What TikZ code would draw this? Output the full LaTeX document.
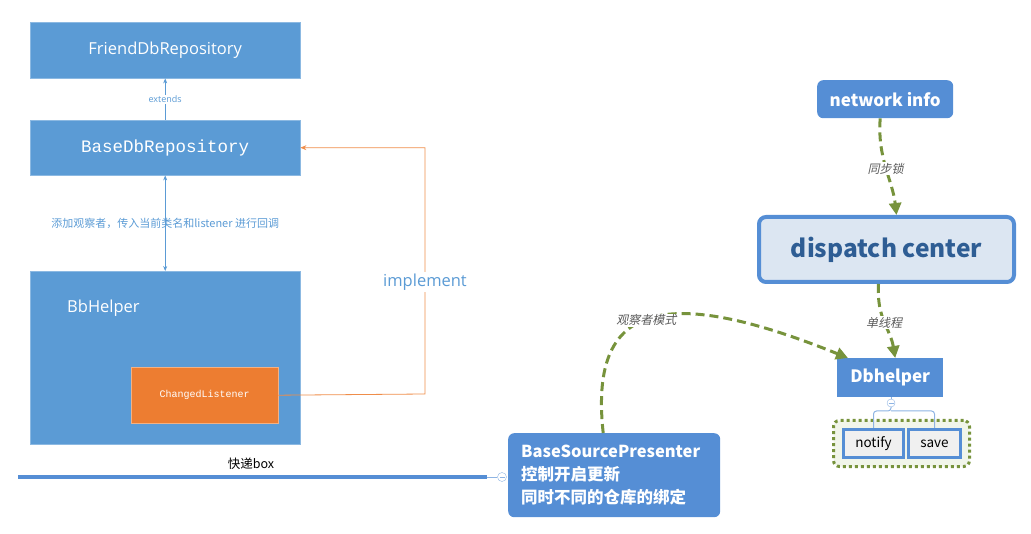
\documentclass[tikz,border=0pt]{standalone}
\usepackage{fontspec}
\setmainfont{Carlito}
\newfontfamily\uifont{Open Sans}
\newfontfamily\cjk{Noto Sans CJK SC}
\newfontfamily\cjkit{Noto Sans CJK SC}[FakeSlant=0.22]
\newfontfamily\monof{Liberation Mono}
\usetikzlibrary{arrows.meta}

\definecolor{boxblue}{HTML}{5B9BD5}
\definecolor{mapblue}{HTML}{558ED5}
\definecolor{knobblue}{HTML}{8EB4E3}
\definecolor{linkorange}{HTML}{F4B183}
\definecolor{orangebox}{HTML}{ED7D31}
\definecolor{leafgreen}{HTML}{77933C}
\definecolor{centerfill}{HTML}{DCE6F2}
\definecolor{centertext}{HTML}{2E5D94}
\definecolor{leaffill}{HTML}{F0F0F0}
\definecolor{groupfill}{HTML}{F1F5EA}
\definecolor{notegray}{HTML}{595959}

\tikzset{
  classbox/.style={draw=boxblue!70!white, fill=boxblue, text=white, inner sep=0pt, anchor=north west},
  topic/.style={fill=mapblue, text=white, inner sep=0pt, anchor=north west, font=\cjk\bfseries\fontsize{17}{20}\selectfont},
  leaf/.style={draw=mapblue, line width=3pt, fill=leaffill, inner sep=0pt, anchor=north west, font=\cjk\fontsize{13.5}{16}\selectfont},
  relation/.style={draw=leafgreen, line width=3pt, dash pattern=on 9pt off 5pt,
    -{Triangle[length=12pt,width=12pt]}},
  relnote/.style={fill=white, inner sep=1pt, text=notegray, font=\cjkit\fontsize{12}{14}\selectfont},
  knob/.style={circle, draw=knobblue, fill=white, inner sep=0pt, minimum size=9pt,
    path picture={\draw[knobblue, line width=0.8pt] ([xshift=-2.5pt]path picture bounding box.center) -- ([xshift=2.5pt]path picture bounding box.center);}},
  branch/.style={draw=knobblue, line width=1pt, rounded corners=3pt},
}

\begin{document}
\begin{tikzpicture}[x=1pt, y=-1pt]
\useasboundingbox (0,0) rectangle (1031,534);

% ---- class hierarchy ----
\node[classbox, minimum width=270pt, minimum height=56pt, font=\uifont\fontsize{16.5}{19}\selectfont]
  (friend) at (30,22) {FriendDbRepository};
\node[classbox, minimum width=270pt, minimum height=55pt, font=\monof\fontsize{17.5}{20}\selectfont]
  (base) at (30,120) {BaseDbRepository};
\node[classbox, minimum width=270pt, minimum height=173pt] (helper) at (30,271) {};
\node[anchor=west, text=white, inner sep=0pt, font=\uifont\fontsize{16.5}{19}\selectfont]
  (helpertitle) at (67,308) {BbHelper};
\node[draw=orangebox!60!white, fill=orangebox, text=white, inner sep=0pt, anchor=north west,
  minimum width=147pt, minimum height=56pt, font=\monof\fontsize{10}{12}\selectfont]
  (listener) at (131,367) {ChangedListener};

\draw[boxblue, line width=0.7pt, -{Stealth[length=5pt,width=4pt]}] (base.north) -- (friend.south)
  node[midway, fill=white, inner sep=1pt, font=\uifont\fontsize{9}{11}\selectfont, text=boxblue] {extends};
\draw[boxblue, line width=0.7pt, {Stealth[length=5pt,width=4pt]}-{Stealth[length=5pt,width=4pt]}]
  (base.south) -- (helper.north)
  node[midway, inner sep=0pt, font=\cjk\fontsize{11}{13}\selectfont, text=boxblue]
  {添加观察者，传入当前类名和listener 进行回调};

\coordinate (implturn) at (425,394);
\draw[line width=0.8pt, -{Stealth[length=6pt,width=5pt]}, color=orangebox!70!linkorange]
  (listener.east) -- (implturn) |- (base.east);
\node[fill=white, inner sep=2pt, text=boxblue, font=\uifont\fontsize{16.5}{19}\selectfont]
  (impllabel) at (425,282) {implement};

% ---- mind map ----
\node[topic, rounded corners=6pt, minimum width=212pt, minimum height=84pt,
  align=left, text width=186pt, inner xsep=13pt, font=\cjk\bfseries\fontsize{16.5}{23}\selectfont]
  (presenter) at (508,433) {BaseSourcePresenter\\控制开启更新\\同时不同的仓库的绑定};

\node[knob] (topknob) at (502,477) {};
\coordinate (topicjoin) at (487,477);
\coordinate (topicend) at (18,477);
\draw[knobblue, line width=1pt] (topknob.west) -- (topicjoin);
\draw[mapblue, line width=3.2pt] (topicjoin) -- (topicend);
\node[font=\cjk\fontsize{12.5}{14}\selectfont, inner sep=0pt] (boxlabel) at (251,464) {快递box};

\node[topic, rounded corners=6pt, minimum width=136pt, minimum height=38pt] (net) at (817,80) {network info};
\node[draw=mapblue, line width=4pt, fill=centerfill, text=centertext, rounded corners=7pt,
  anchor=north west, inner sep=0pt, minimum width=255pt, minimum height=65pt,
  font=\cjk\bfseries\fontsize{24.5}{28}\selectfont] (center) at (757,215) {dispatch center};
\node[topic, minimum width=106pt, minimum height=39pt] (db) at (837,358) {Dbhelper};

\draw[relation] ([xshift=-5pt]net.south) .. controls +(-3,40) and +(-4,-35) .. ([xshift=10pt]center.north)
  node[pos=0.5, relnote] {同步锁};
\draw[relation] ([xshift=-8pt]center.south) .. controls +(-2,35) and +(-5,-30) .. ([xshift=5pt]db.north)
  node[pos=0.5, relnote] {单线程};
\draw[relation] ([xshift=-11pt]presenter.north) .. controls (590,312) and (650,278) .. ([xshift=11pt]db.north west)
  node[pos=0.5, relnote] {观察者模式};

% ---- Dbhelper children ----
\node[knob, minimum size=8pt] (dbknob) at (891,403) {};
\draw[knobblue, line width=1pt] (db.south -| dbknob) -- (dbknob.north);
\node[draw=leafgreen, line width=3pt, dash pattern=on 3pt off 3pt, fill=groupfill, rounded corners=6pt,
  anchor=north west, inner sep=0pt, minimum width=136pt, minimum height=46pt] (group) at (832,419) {};
\node[leaf, minimum width=60pt, minimum height=28pt] (notify) at (842,428) {notify};
\node[leaf, minimum width=52pt, minimum height=28pt] (save) at (907,428) {save};
\coordinate (fork) at (891,411);
\draw[branch] (dbknob.south) -- (fork) -| (notify.north);
\draw[branch] (fork) -| (save.north);

\end{tikzpicture}
\end{document}
